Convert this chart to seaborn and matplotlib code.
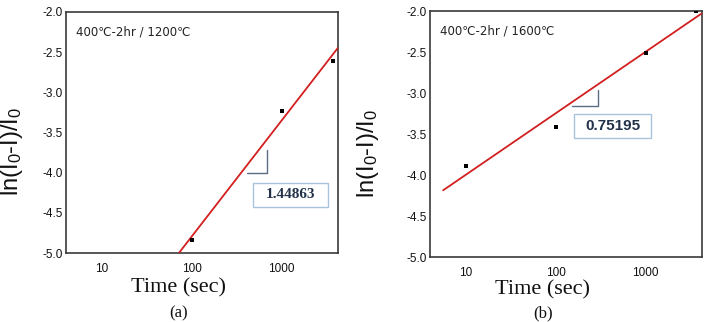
import numpy as np
import pandas as pd
import matplotlib
matplotlib.use("Agg")
import matplotlib.pyplot as plt
from matplotlib.patches import Rectangle
import seaborn as sns

sns.set_theme(style="white")
plt.rcParams['font.family'] = ['Liberation Sans', 'DejaVu Sans']
plt.rcParams['mathtext.fontset'] = 'custom'
plt.rcParams['mathtext.rm'] = 'Liberation Sans'
plt.rcParams['mathtext.it'] = 'Liberation Sans:italic'
plt.rcParams['mathtext.bf'] = 'Liberation Sans:bold'

# ---- data ----
time_a = [100, 1000, 3700]
lnI_a = [-4.84, -3.23, -2.61]
slope_a_text = "1.44863"
title_a = "400\u2103-2hr / 1200\u2103"

time_b = [10, 100, 1000, 3650]
lnI_b = [-3.89, -3.42, -2.51, -2.0]
slope_b_text = "0.75195"
title_b = "400\u2103-2hr / 1600\u2103"

xticks = [10, 100, 1000]
xtick_labels = ["10", "100", "1000"]
yticks = [-2.0, -2.5, -3.0, -3.5, -4.0, -4.5, -5.0]
ytick_labels = ["-2.0", "-2.5", "-3.0", "-3.5", "-4.0", "-4.5", "-5.0"]
panel_labels = ["(a)", "(b)"]

fig = plt.figure(figsize=(7.09, 3.22), dpi=100)
W, H = 709, 322

def axes_px(l, t, r, b):
    return fig.add_axes([l / W, 1 - b / H, (r - l) / W, (b - t) / H])

ax_a = axes_px(66, 12, 338, 253)
ax_b = axes_px(430, 11, 702, 257)

def draw(ax, px_box, t, y, line_start, slope_txt, title, corner, box, panel,
         slope_font, ylab_px, xlab_top, panel_y):
    l, tp, r, b = px_box
    fx = lambda px: (px - l) / (r - l)
    fy = lambda py: 1 - (py - tp) / (b - tp)
    ax.set_xscale('log')
    ax.set_xlim(4.0, 4250)
    ax.set_ylim(-5.0, -2.0)
    coef = np.polyfit(np.log10(t), y, 1)
    xs = np.logspace(np.log10(line_start), np.log10(4250), 100)
    fit = pd.DataFrame({"t": xs, "y": np.polyval(coef, np.log10(xs))})
    sns.lineplot(data=fit, x="t", y="y", ax=ax, color="#d21f1f", lw=1.3, zorder=3)
    pts = pd.DataFrame({"t": t, "y": y})
    sns.scatterplot(data=pts, x="t", y="y", ax=ax, marker="s", s=10, color="black",
                    edgecolor="black", linewidth=0, zorder=4)
    ax.set_xticks(xticks)
    ax.set_xticklabels(xtick_labels)
    ax.minorticks_off()
    ax.set_yticks(yticks)
    ax.set_yticklabels(ytick_labels)
    ax.tick_params(axis='both', length=0, labelsize=8.5, colors="#111111")
    ax.tick_params(axis='x', pad=7)
    ax.tick_params(axis='y', pad=2)
    for s in ax.spines.values():
        s.set_color("#3a3a3a")
        s.set_linewidth(1.2)
    ax.set_xlabel("Time (sec)", family="Liberation Serif", fontsize=16, color="#111111")
    ax.xaxis.set_label_coords(0.415, fy(xlab_top))
    ax.set_ylabel(r"ln(I$_0$-I)/I$_0$", fontsize=17, color="#111111")
    ax.yaxis.set_label_coords(fx(ylab_px), 0.42)
    ax.text(fx(l + 10), fy(tp + 20), title, transform=ax.transAxes, fontsize=8.5,
            color="#222222", family=["DejaVu Sans"], va="center", ha="left")
    # slope corner marker
    cx, cy_top, cy_bot, hx0 = corner
    ax.plot([fx(cx), fx(cx), fx(hx0)], [fy(cy_top), fy(cy_bot), fy(cy_bot)],
            transform=ax.transAxes, color="#5a6f85", lw=1.0, clip_on=False)
    bx0, by0, bx1, by1 = box
    ax.add_patch(Rectangle((fx(bx0), fy(by1)), fx(bx1) - fx(bx0), fy(by0) - fy(by1),
                           transform=ax.transAxes, fc="white", ec="#a8c4dc", lw=1.0,
                           zorder=5))
    ax.text((fx(bx0) + fx(bx1)) / 2, (fy(by0) + fy(by1)) / 2, slope_txt,
            transform=ax.transAxes, fontsize=11, fontweight="bold",
            color="#23324a", family=slope_font, va="center", ha="center", zorder=6)
    ax.text(0.415, fy(panel_y), panel, transform=ax.transAxes, family="Liberation Serif",
            fontsize=12, ha="center", va="center", color="#111111")

draw(ax_a, (66, 12, 338, 253), time_a, lnI_a, 4.0, slope_a_text, title_a,
     (266.7, 150, 173, 246.7), (253, 183, 328, 207), panel_labels[0],
     ["Liberation Serif"], 25, 278, 313)
draw(ax_b, (430, 11, 702, 257), time_b, lnI_b, 5.6, slope_b_text, title_b,
     (598.3, 90, 105.7, 571.7), (574, 114, 651, 138), panel_labels[1],
     ["Liberation Sans"], 381, 280, 313)

fig.savefig("out.png", dpi=100)
